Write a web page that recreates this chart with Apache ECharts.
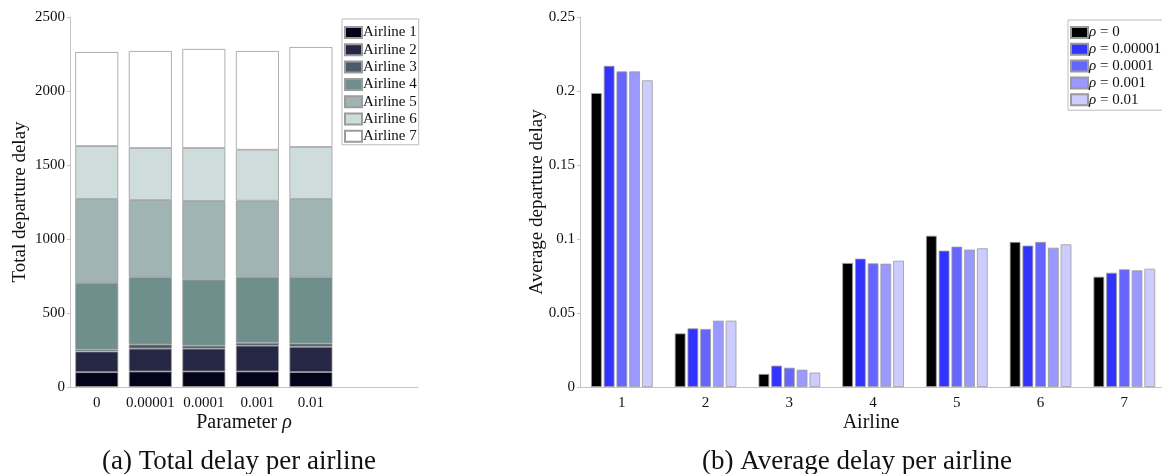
<!DOCTYPE html>
<html>
<head>
<meta charset="utf-8">
<script src="https://cdn.jsdelivr.net/npm/echarts@6/dist/echarts.min.js"></script>
<style>
html,body{margin:0;padding:0;background:#fff;}
#chart{width:1162px;height:474px;}
</style>
</head>
<body>
<div id="chart"></div>
<script>
// ---- Data ----
const rhoLabels = ['0', '0.00001', '0.0001', '0.001', '0.01'];
const airlineNames = ['Airline 1', 'Airline 2', 'Airline 3', 'Airline 4', 'Airline 5', 'Airline 6', 'Airline 7'];
const airlineTicks = ['1', '2', '3', '4', '5', '6', '7'];

// (a) total departure delay per airline, one value per rho
const totalA1 = [100, 105, 105, 105, 101];
const totalA2 = [140, 154, 154, 174, 171];
const totalA3 = [12, 29, 20, 20, 21];
const totalA4 = [451, 455, 446, 446, 450];
const totalA5 = [567, 520, 532, 514, 527];
const totalA6 = [358, 352, 358, 344, 352];
const totalA7 = [635, 655, 669, 667, 675];

// (b) average departure delay per airline, one series per rho
const rhoSeriesNames = ['ρ = 0', 'ρ = 0.00001', 'ρ = 0.0001', 'ρ = 0.001', 'ρ = 0.01'];
const avgRho0    = [0.1986, 0.0362, 0.0088, 0.0838, 0.1022, 0.0980, 0.0745];
const avgRho1e5  = [0.2170, 0.0396, 0.0144, 0.0867, 0.0921, 0.0955, 0.0772];
const avgRho1e4  = [0.2132, 0.0392, 0.0130, 0.0835, 0.0948, 0.0980, 0.0795];
const avgRho1e3  = [0.2132, 0.0448, 0.0117, 0.0833, 0.0928, 0.0941, 0.0788];
const avgRho1e2  = [0.2072, 0.0448, 0.0097, 0.0853, 0.0937, 0.0964, 0.0799];

// ---- Styling ----
const FONT = 'Liberation Serif';
const axisGray = '#c4c4c4';
const airlineColors = ['#05031a', '#262744', '#4b5b6b', '#6e8f8b', '#a0b4b4', '#cfdcdc', '#ffffff'];
const rhoColors = ['#000000', '#3333ff', '#6666ff', '#9999ff', '#ccccff'];

const totals = [totalA1, totalA2, totalA3, totalA4, totalA5, totalA6, totalA7];
const avgs = [avgRho0, avgRho1e5, avgRho1e4, avgRho1e3, avgRho1e2];

const chart = echarts.init(document.getElementById('chart'), null, {renderer: 'canvas'});

// value first in each pair so the value dimension is the stacked one
const leftSeries = totals.map((arr, i) => ({
  name: airlineNames[i],
  type: 'bar',
  xAxisIndex: 0,
  yAxisIndex: 0,
  stack: 'total',
  barWidth: 43,
  encode: {x: 1, y: 0},
  data: arr.map((v, j) => [v, j + 1]),
  itemStyle: {color: airlineColors[i], borderColor: '#9c9c9c', borderWidth: 0.8},
  emphasis: {disabled: true},
  animation: false
}));

const rightSeries = avgs.map((arr, i) => ({
  name: rhoSeriesNames[i],
  type: 'bar',
  xAxisIndex: 1,
  yAxisIndex: 1,
  barWidth: 10.7,
  barGap: '19%',
  data: arr.map((v, j) => [j + 1, v]),
  itemStyle: {color: rhoColors[i], borderColor: '#9a9a9a', borderWidth: 0.8},
  emphasis: {disabled: true},
  animation: false
}));

const tickLabelStyle = {color: '#111', fontFamily: FONT, fontSize: 15};
const nameStyle = {color: '#111', fontFamily: FONT, fontSize: 20, rich: {i: {fontStyle: 'italic', fontFamily: FONT, fontSize: 20, color: '#111'}}};
const yNameStyle = {color: '#111', fontFamily: FONT, fontSize: 19};

const option = {
  animation: false,
  backgroundColor: '#ffffff',
  textStyle: {fontFamily: FONT},
  grid: [
    {left: 70, top: 17, width: 348, height: 370},
    {left: 580, top: 17, width: 582, height: 370}
  ],
  xAxis: [
    {
      type: 'value', gridIndex: 0, min: 0.5, max: 7,
      name: 'Parameter {i|ρ}', nameLocation: 'middle', nameGap: 26, nameMoveOverlap: false,
      nameTextStyle: nameStyle,
      axisLine: {show: true, onZero: false, lineStyle: {color: axisGray, width: 1}},
      axisTick: {show: false},
      splitLine: {show: false},
      axisLabel: Object.assign({margin: 9, customValues: [1, 2, 3, 4, 5],
        formatter: v => rhoLabels[Math.round(v) - 1] || ''}, tickLabelStyle)
    },
    {
      type: 'value', gridIndex: 1, min: 0.5, max: 7.45,
      name: 'Airline', nameLocation: 'middle', nameGap: 26, nameMoveOverlap: false,
      nameTextStyle: nameStyle,
      axisLine: {show: true, onZero: false, lineStyle: {color: axisGray, width: 1}},
      axisTick: {show: false},
      splitLine: {show: false},
      axisLabel: Object.assign({margin: 9, customValues: [1, 2, 3, 4, 5, 6, 7],
        formatter: v => airlineTicks[Math.round(v) - 1] || ''}, tickLabelStyle)
    }
  ],
  yAxis: [
    {
      type: 'value', gridIndex: 0, min: 0, max: 2500, interval: 500,
      name: 'Total departure delay', nameLocation: 'middle', nameGap: 40, nameMoveOverlap: false,
      nameTextStyle: yNameStyle,
      axisLine: {show: true, lineStyle: {color: axisGray, width: 1}},
      axisTick: {show: true, inside: false, length: 3, lineStyle: {color: axisGray}},
      splitLine: {show: false},
      axisLabel: Object.assign({margin: 5, formatter: v => String(v)}, tickLabelStyle)
    },
    {
      type: 'value', gridIndex: 1, min: 0, max: 0.25, interval: 0.05,
      name: 'Average departure delay', nameLocation: 'middle', nameGap: 33, nameMoveOverlap: false,
      nameTextStyle: yNameStyle,
      axisLine: {show: true, lineStyle: {color: axisGray, width: 1}},
      axisTick: {show: true, inside: false, length: 3, lineStyle: {color: axisGray}},
      splitLine: {show: false},
      axisLabel: Object.assign({margin: 5, formatter: v => String(+v.toFixed(2))}, tickLabelStyle)
    }
  ],
  legend: [
    {
      data: airlineNames,
      orient: 'vertical',
      left: 342, top: 19,
      padding: [6, 2, 1, 2],
      itemWidth: 17, itemHeight: 11, itemGap: 2.3,
      icon: 'rect',
      borderColor: '#bdbdbd', borderWidth: 1,
      selectedMode: false,
      textStyle: {fontFamily: FONT, fontSize: 15, color: '#111', lineHeight: 12, padding: [0, 0, 0, -4]}
    },
    {
      data: rhoSeriesNames,
      orient: 'vertical',
      left: 1068, top: 20,
      padding: [5, 4, 3, 2],
      itemWidth: 17, itemHeight: 11, itemGap: 1.8,
      icon: 'rect',
      borderColor: '#bdbdbd', borderWidth: 1,
      selectedMode: false,
      formatter: n => n.replace('ρ', '{i|ρ}'),
      textStyle: {fontFamily: FONT, fontSize: 15, color: '#111', lineHeight: 12, padding: [0, 0, 0, -4],
        rich: {i: {fontStyle: 'italic', fontFamily: FONT, fontSize: 15, color: '#111'}}}
    }
  ],
  graphic: [
    {type: 'text', style: {text: '(a) Total delay per airline', fontFamily: FONT, fontSize: 27, fill: '#111', textAlign: 'center', textVerticalAlign: 'middle', x: 239, y: 462}},
    {type: 'text', style: {text: '(b) Average delay per airline', fontFamily: FONT, fontSize: 27, fill: '#111', textAlign: 'center', textVerticalAlign: 'middle', x: 857, y: 462}}
  ],
  series: leftSeries.concat(rightSeries)
};
chart.setOption(option);
</script>
</body>
</html>
